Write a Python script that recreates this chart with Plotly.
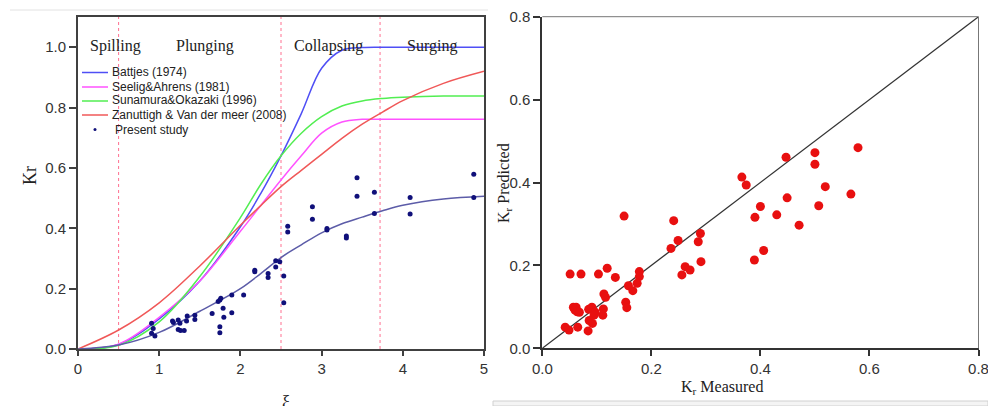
import plotly.graph_objects as go

# ---------------- data: left panel (reflection coefficient vs surf similarity) ----------------
xi_curve = [0, 0.5, 1.0, 1.5, 2.0, 2.25, 2.5, 2.75, 3.0, 3.25, 3.5, 3.75, 4.0, 4.5, 5.0]
battjes = [0, 0.015, 0.1, 0.225, 0.405, 0.515, 0.64, 0.78, 0.93, 0.99, 0.999, 1.0, 1.0, 1.0, 1.0]
seelig = [0, 0.016, 0.105, 0.225, 0.39, 0.475, 0.56, 0.64, 0.715, 0.752, 0.761, 0.761, 0.761, 0.761, 0.761]
sunamura = [0, 0.012, 0.09, 0.24, 0.435, 0.545, 0.64, 0.715, 0.77, 0.805, 0.822, 0.83, 0.834, 0.838, 0.838]
zanuttigh = [0, 0.063, 0.153, 0.275, 0.41, 0.475, 0.538, 0.592, 0.645, 0.698, 0.745, 0.785, 0.823, 0.88, 0.92]
present_fit = [0, 0.013, 0.055, 0.125, 0.2, 0.25, 0.303, 0.345, 0.385, 0.415, 0.437, 0.458, 0.476, 0.497, 0.506]

xi_obs = [0.906, 0.926, 0.906, 0.947,
          1.164, 1.175, 1.234, 1.255, 1.234, 1.263, 1.308, 1.337, 1.345, 1.439, 1.439,
          1.652, 1.726, 1.747, 1.759, 1.787, 1.796, 1.747, 1.747, 1.894, 1.894, 2.04,
          2.177, 2.177, 2.341, 2.341, 2.435, 2.435, 2.485, 2.534, 2.534, 2.583, 2.583,
          2.887, 2.887, 3.066, 3.066, 3.305, 3.305, 3.436, 3.436, 3.65, 3.65,
          4.09, 4.09, 4.874, 4.874]
kr_obs = [0.085, 0.068, 0.052, 0.043,
          0.093, 0.088, 0.096, 0.085, 0.065, 0.061, 0.061, 0.093, 0.109, 0.112, 0.098,
          0.118, 0.157, 0.162, 0.168, 0.135, 0.105, 0.074, 0.054, 0.179, 0.12, 0.179,
          0.261, 0.256, 0.25, 0.237, 0.292, 0.272, 0.289, 0.242, 0.153, 0.407, 0.388,
          0.471, 0.43, 0.399, 0.394, 0.374, 0.368, 0.567, 0.506, 0.519, 0.449,
          0.502, 0.447, 0.579, 0.502]

breaker_limits = [0.5, 2.5, 3.72]
breaker_names = ["Spilling", "Plunging", "Collapsing", "Surging"]
breaker_label_x = [0.46, 1.57, 3.08, 4.36]

legend_names = ["Battjes (1974)", "Seelig&Ahrens (1981)", "Sunamura&Okazaki (1996)",
                "Zanuttigh & Van der meer (2008)", "Present study"]

# ---------------- data: right panel (predicted vs measured) ----------------
kr_measured = [0.150, 0.241, 0.236, 0.249, 0.290, 0.286, 0.291, 0.262, 0.271, 0.256,
               0.051, 0.071, 0.103, 0.119, 0.134, 0.178, 0.178, 0.174, 0.158, 0.166,
               0.153, 0.155, 0.113, 0.116, 0.112, 0.111, 0.091, 0.085, 0.097, 0.095,
               0.086, 0.092, 0.084, 0.057, 0.062, 0.060, 0.064, 0.068, 0.042, 0.049, 0.065,
               0.579, 0.500, 0.500, 0.447, 0.366, 0.374, 0.519, 0.566, 0.449,
               0.507, 0.400, 0.390, 0.430, 0.471, 0.406, 0.389]
kr_predicted = [0.319, 0.308, 0.241, 0.260, 0.277, 0.257, 0.209, 0.197, 0.189, 0.177,
                0.179, 0.179, 0.179, 0.193, 0.171, 0.185, 0.173, 0.157, 0.151, 0.139,
                0.111, 0.098, 0.131, 0.123, 0.095, 0.080, 0.099, 0.094, 0.087, 0.080,
                0.067, 0.060, 0.042, 0.099, 0.099, 0.092, 0.088, 0.087, 0.051, 0.044, 0.051,
                0.484, 0.472, 0.444, 0.461, 0.413, 0.394, 0.390, 0.372, 0.363,
                0.344, 0.342, 0.316, 0.322, 0.297, 0.236, 0.213]
diag = [0, 0.8]

W, H = 988, 406
def px(x): return x / W
def py(y): return 1 - y / H

SANS = "Liberation Sans, Arial, sans-serif"
SERIF = "Liberation Serif, Times New Roman, serif"

c_blue = "#4f4ff5"
c_mag = "#ff52ff"
c_green = "#52ee52"
c_red = "#f05858"
c_fit = "#5c5ca8"
c_dot = "#10107a"

fig = go.Figure()

curve_specs = [(battjes, c_blue), (seelig, c_mag), (sunamura, c_green), (zanuttigh, c_red)]
for ys, col in curve_specs:
    fig.add_trace(go.Scatter(x=xi_curve, y=ys, mode="lines",
                             line=dict(color=col, width=1.5, shape="spline", smoothing=1.0),
                             xaxis="x", yaxis="y", showlegend=False))
fig.add_trace(go.Scatter(x=xi_curve, y=present_fit, mode="lines",
                         line=dict(color=c_fit, width=1.5, shape="spline", smoothing=1.0),
                         xaxis="x", yaxis="y", showlegend=False))
fig.add_trace(go.Scatter(x=xi_obs, y=kr_obs, mode="markers",
                         marker=dict(color=c_dot, size=5),
                         xaxis="x", yaxis="y", showlegend=False))

# right panel
fig.add_trace(go.Scatter(x=diag, y=diag, mode="lines",
                         line=dict(color="#333333", width=1.3),
                         xaxis="x2", yaxis="y2", showlegend=False))
fig.add_trace(go.Scatter(x=kr_measured, y=kr_predicted, mode="markers",
                         marker=dict(color="#e81010", size=9),
                         xaxis="x2", yaxis="y2", showlegend=False))

shapes = []
for xl in breaker_limits:
    shapes.append(dict(type="line", xref="x", yref="y domain", x0=xl, x1=xl, y0=0, y1=1,
                       line=dict(color="#ff7090", width=1, dash="dot"), layer="below"))

# manual legend (left panel)
leg_y = [72.5, 87, 101, 115]
for yy, (_, col) in zip(leg_y, curve_specs):
    shapes.append(dict(type="line", xref="paper", yref="paper", x0=px(82), x1=px(108),
                       y0=py(yy), y1=py(yy), line=dict(color=col, width=1.5)))
shapes.append(dict(type="circle", xref="paper", yref="paper", x0=px(93.5), x1=px(96.5),
                   y0=py(131), y1=py(128), fillcolor=c_dot, line=dict(color=c_dot, width=0)))

# right panel top/right thin frame
shapes.append(dict(type="line", xref="x2 domain", yref="y2 domain", x0=0, x1=1, y0=1, y1=1,
                   line=dict(color="#777777", width=1)))
shapes.append(dict(type="line", xref="x2 domain", yref="y2 domain", x0=1, x1=1, y0=0, y1=1,
                   line=dict(color="#777777", width=1)))

# faint page frames from the source figure
shapes.append(dict(type="line", xref="paper", yref="paper", x0=px(10), x1=px(488),
                   y0=py(10), y1=py(10), line=dict(color="#e2e2e2", width=1)))
shapes.append(dict(type="rect", xref="paper", yref="paper", x0=px(493), x1=1,
                   y0=0, y1=py(401), fillcolor="#f4f4f4", line=dict(color="#d0d0d0", width=1)))

annotations = []
for name, xc in zip(breaker_names, breaker_label_x):
    annotations.append(dict(x=xc, y=py(35), xref="x", yref="paper", text=name, showarrow=False,
                            font=dict(family=SERIF, size=16, color="#222222")))
leg_text_y = [72, 86.5, 100.5, 114.5, 129.5]
for name, yy in zip(legend_names, leg_text_y):
    xx = 110 if name != "Present study" else 113
    annotations.append(dict(x=px(xx), y=py(yy), xref="paper", yref="paper", text=name,
                            showarrow=False, xanchor="left", yanchor="middle",
                            font=dict(family=SANS, size=12, color="#222222")))
annotations.append(dict(x=px(18), y=py(176), xref="paper", yref="paper", text="Kr",
                        showarrow=False, textangle=-90,
                        font=dict(family=SERIF, size=18, color="#222222")))
annotations.append(dict(x=px(280), y=py(390), xref="paper", yref="paper", text="ξ<sub>o</sub>",
                        showarrow=False, yanchor="top",
                        font=dict(family=SERIF, size=18, color="#222222")))
annotations.append(dict(x=px(504), y=py(183), xref="paper", yref="paper",
                        text="K<sub>r</sub> Predicted", showarrow=False, textangle=-90,
                        font=dict(family=SERIF, size=16, color="#222222")))
annotations.append(dict(x=px(765), y=py(399), xref="paper", yref="paper",
                        text="K<sub>r</sub> Measured", showarrow=False,
                        font=dict(family=SERIF, size=16, color="#222222")))

tickfont = dict(family=SANS, size=15, color="#333333")
fig.update_layout(
    width=W, height=H,
    margin=dict(l=0, r=0, t=0, b=0, pad=0, autoexpand=False),
    paper_bgcolor="white", plot_bgcolor="white",
    showlegend=False,
    xaxis=dict(domain=[px(78), px(484)], range=[0, 5], tickvals=[0, 1, 2, 3, 4, 5],
               ticks="outside", ticklen=5, tickwidth=1.5, tickcolor="#404040",
               showline=True, mirror=True, linecolor="#404040", linewidth=2,
               showgrid=False, zeroline=False, tickfont=tickfont, anchor="y", automargin=False),
    yaxis=dict(domain=[py(349), py(17)], range=[0, 1.1], tickvals=[0, 0.2, 0.4, 0.6, 0.8, 1.0],
               tickformat=".1f",
               ticks="outside", ticklen=7, tickwidth=1.5, tickcolor="#404040",
               showline=True, mirror=True, linecolor="#404040", linewidth=2,
               showgrid=False, zeroline=False, tickfont=tickfont, anchor="x", automargin=False),
    xaxis2=dict(domain=[px(542.3), px(978.5)], range=[0, 0.8], tickvals=[0, 0.2, 0.4, 0.6, 0.8],
                tickformat=".1f", ticklabeloverflow="allow",
                ticks="outside", ticklen=6, tickwidth=1.5, tickcolor="#333333",
                showline=True, mirror=False, linecolor="#333333", linewidth=2,
                showgrid=False, zeroline=False, tickfont=tickfont, anchor="y2", automargin=False),
    yaxis2=dict(domain=[py(348.3), py(16.7)], range=[0, 0.8], tickvals=[0, 0.2, 0.4, 0.6, 0.8],
                tickformat=".1f",
                ticks="outside", ticklen=7, tickwidth=1.5, tickcolor="#333333",
                showline=True, mirror=False, linecolor="#333333", linewidth=2,
                showgrid=False, zeroline=False, tickfont=tickfont, anchor="x2", automargin=False),
    shapes=shapes,
    annotations=annotations,
)

fig.write_html("out.html")
